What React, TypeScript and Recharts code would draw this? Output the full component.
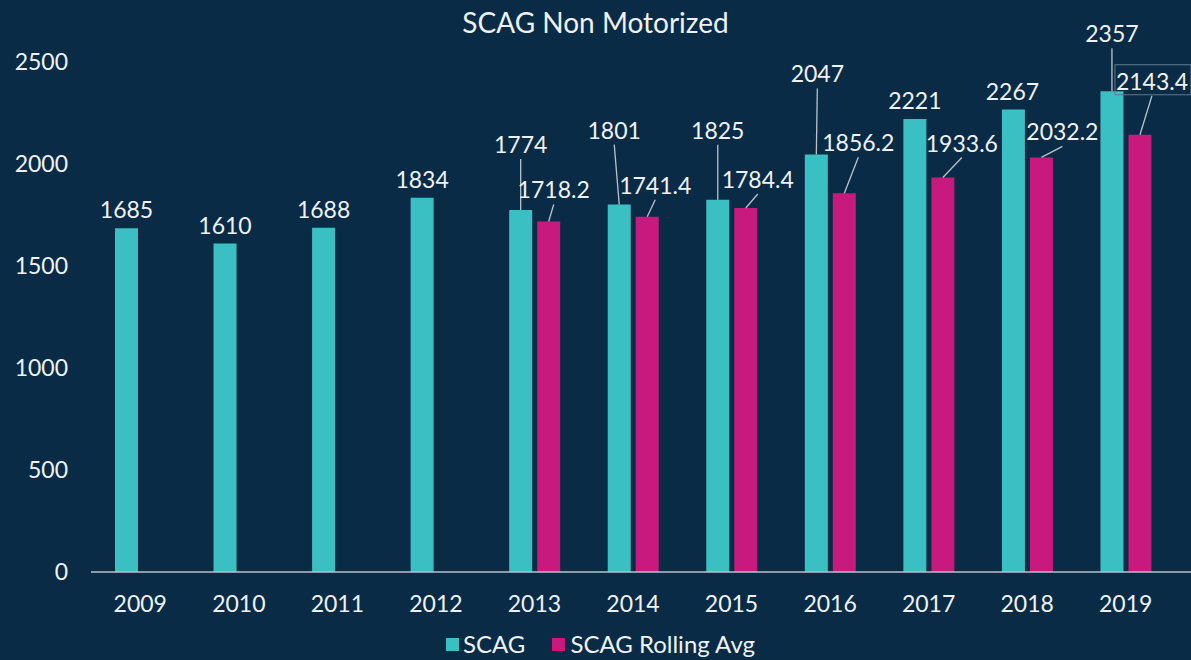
import React from 'react';
import { BarChart, Bar, XAxis, YAxis, LabelList } from 'recharts';

// Data
const years = ['2009', '2010', '2011', '2012', '2013', '2014', '2015', '2016', '2017', '2018', '2019'];
const scag = [1685, 1610, 1688, 1834, 1774, 1801, 1825, 2047, 2221, 2267, 2357];
const rollingAvg = [null, null, null, null, 1718.2, 1741.4, 1784.4, 1856.2, 1933.6, 2032.2, 2143.4];
const yTicks = [0, 500, 1000, 1500, 2000, 2500];

const chartData = years.map((year, i) => ({ year, scag: scag[i], rolling: rollingAvg[i] }));

// Label placement per year (offset of the label centre from the bar's top centre, and leader line)
const scagLabelPos: [number, number, boolean][] = [
  [0, -19, false], [0, -19, false], [0, -19, false], [0, -19, false],
  [0, -66, true], [-5, -75, true], [0, -70, true], [1, -81, true],
  [0, -19, false], [-1, -19, false], [0, -58, true],
];
const rollingLabelPos: [number, number, boolean][] = [
  [0, 0, false], [0, 0, false], [0, 0, false], [0, 0, false],
  [5, -32, true], [8, -32, true], [12, -29, true], [14, -51, true],
  [19, -35, true], [21, -26, true], [12, -54, true],
];

const BG = '#0a2b46';
const TEAL = '#3abfc2';
const MAGENTA = '#c8197e';
const TEXT = '#eef2f5';
const FONT = 'Lato, "Open Sans", sans-serif';

// LabelList skips empty entries, so the year is found from the value itself
const makeLabel = (values: (number | null)[], pos: [number, number, boolean][], boxed?: number) => (props: any) => {
  const { x, y, width, value } = props;
  if (value === null || value === undefined) return null;
  const i = values.indexOf(Number(value));
  if (i < 0) return null;
  const [dx, dy, leader] = pos[i];
  const cx = Number(x) + Number(width) / 2;
  const lx = cx + dx;
  const ly = Number(y) + dy;
  const text = String(value);
  return (
    <g key={`lbl-${i}`}>
      {leader && (
        <line x1={cx} y1={Number(y)} x2={lx} y2={ly + 15} stroke="#b9c2ca" strokeWidth={1.3} />
      )}
      {boxed === i && (
        <rect x={lx - 37} y={ly - 16} width={76} height={30} fill="none" stroke="#5d7a90" strokeWidth={1} />
      )}
      <text x={lx} y={ly} textAnchor="middle" dominantBaseline="central" fill={TEXT} fontSize={23} fontFamily={FONT}>
        {text}
      </text>
    </g>
  );
};

export default function App() {
  return (
    <div style={{ position: 'relative', width: 1191, height: 660, background: BG, fontFamily: FONT }}>
      <style>{`body { margin: 0; }`}</style>
      <div
        style={{
          position: 'absolute', top: 4, left: 0, width: 1191, textAlign: 'center',
          color: TEXT, fontSize: 28, lineHeight: '36px',
        }}
      >
        SCAG Non Motorized
      </div>
      <BarChart
        width={1191}
        height={660}
        data={chartData}
        margin={{ top: 62, right: 0, left: 0, bottom: 48 }}
        barSize={23}
        barGap={5}
      >
        <XAxis
          dataKey="year"
          height={40}
          padding={{ left: 0, right: 16 }}
          tickLine={false}
          tickMargin={18}
          axisLine={{ stroke: '#b9c2ca', strokeWidth: 1.5 }}
          tick={{ fill: TEXT, fontSize: 23, fontFamily: FONT }}
        />
        <YAxis
          width={91}
          domain={[0, 2500]}
          ticks={yTicks}
          axisLine={false}
          tickLine={false}
          tickMargin={17}
          tick={{ fill: TEXT, fontSize: 23, fontFamily: FONT }}
        />
        <Bar dataKey="scag" name="SCAG" fill={TEAL} isAnimationActive={false}>
          <LabelList dataKey="scag" content={makeLabel(scag, scagLabelPos)} />
        </Bar>
        <Bar dataKey="rolling" name="SCAG Rolling Avg" fill={MAGENTA} isAnimationActive={false}>
          <LabelList dataKey="rolling" content={makeLabel(rollingAvg, rollingLabelPos, 10)} />
        </Bar>
      </BarChart>
      <div
        style={{
          position: 'absolute', top: 630, left: 446, display: 'flex', alignItems: 'center',
          color: TEXT, fontSize: 24, lineHeight: '28px',
        }}
      >
        <span style={{ width: 13, height: 13, background: TEAL, marginRight: 4 }} />
        <span style={{ marginRight: 27 }}>SCAG</span>
        <span style={{ width: 13, height: 13, background: MAGENTA, marginRight: 5 }} />
        <span>SCAG Rolling Avg</span>
      </div>
    </div>
  );
}
